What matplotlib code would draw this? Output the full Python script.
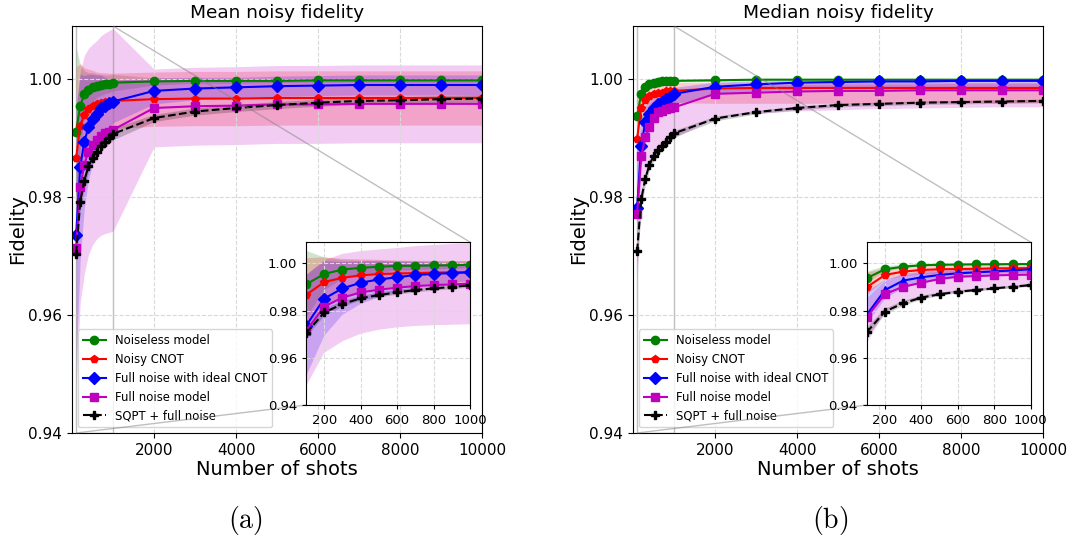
import matplotlib
matplotlib.use("Agg")
import matplotlib.pyplot as plt
import numpy as np
from mpl_toolkits.axes_grid1.inset_locator import mark_inset

# ── data ──────────────────────────────────────────────────────
shots = [100, 200, 300, 400, 500, 600, 700, 800, 900, 1000,
         2000, 3000, 4000, 5000, 6000, 7000, 8000, 9000, 10000]

labels = ["Noiseless model", "Noisy CNOT", "Full noise with ideal CNOT",
          "Full noise model", "SQPT + full noise"]

# (a) mean and std
mean_noiseless = [0.9911, 0.9955, 0.9974, 0.9981, 0.9986, 0.9989, 0.9990, 0.9991, 0.9992, 0.9994,
                  0.9996, 0.9997, 0.9997, 0.9997, 0.9998, 0.9998, 0.9998, 0.9998, 0.9998]
mean_cnot = [0.9866, 0.9921, 0.9939, 0.9949, 0.9955, 0.9957, 0.9959, 0.9961, 0.9962, 0.9963,
             0.9966, 0.9967, 0.9967, 0.9968, 0.9968, 0.9968, 0.9968, 0.9968, 0.9968]
mean_ideal = [0.9735, 0.9851, 0.9894, 0.9918, 0.9932, 0.9941, 0.9951, 0.9955, 0.9959, 0.9962,
              0.9980, 0.9984, 0.9986, 0.9988, 0.9989, 0.9990, 0.9990, 0.9990, 0.9990]
mean_full = [0.9714, 0.9817, 0.9855, 0.9877, 0.9889, 0.9897, 0.9904, 0.9908, 0.9911, 0.9914,
             0.9951, 0.9954, 0.9955, 0.9957, 0.9957, 0.9958, 0.9958, 0.9958, 0.9958]
mean_sqpt = [0.9704, 0.9792, 0.9828, 0.9852, 0.9866, 0.9877, 0.9887, 0.9894, 0.9900, 0.9907,
             0.9934, 0.9945, 0.9951, 0.9956, 0.9960, 0.9963, 0.9964, 0.9966, 0.9967]

std_noiseless = [0.0143, 0.0070, 0.0040, 0.0030, 0.0025, 0.0020, 0.0018, 0.0016, 0.0015, 0.0014,
                 0.0006, 0.0004, 0.0004, 0.0003, 0.0003, 0.0003, 0.0003, 0.0003, 0.0003]
std_cnot = [0.0155, 0.0105, 0.0080, 0.0068, 0.0060, 0.0055, 0.0052, 0.0050, 0.0048, 0.0047,
            0.0046, 0.0046, 0.0046, 0.0046, 0.0046, 0.0046, 0.0046, 0.0046, 0.0046]
std_ideal = [0.0215, 0.0158, 0.0112, 0.0090, 0.0076, 0.0066, 0.0056, 0.0048, 0.0042, 0.0036,
             0.0022, 0.0019, 0.0017, 0.0017, 0.0017, 0.0017, 0.0017, 0.0017, 0.0017]
std_full = [0.0235, 0.0196, 0.0185, 0.0175, 0.0170, 0.0168, 0.0169, 0.0170, 0.0171, 0.0172,
            0.0066, 0.0066, 0.0066, 0.0066, 0.0066, 0.0066, 0.0066, 0.0066, 0.0066]
std_sqpt = [0.0020, 0.0015, 0.0012, 0.0010, 0.0010, 0.0010, 0.0010, 0.0010, 0.0010, 0.0010,
            0.0006, 0.0006, 0.0006, 0.0006, 0.0006, 0.0006, 0.0006, 0.0006, 0.0006]

# (b) median with lower / upper quantiles
med_noiseless = [0.9937, 0.9975, 0.9986, 0.9992, 0.9994, 0.9995, 0.9996, 0.9996, 0.9997, 0.9997,
                 0.9998, 0.9999, 0.9999, 0.9999, 0.9999, 0.9999, 0.9999, 0.9999, 0.9999]
med_cnot = [0.9899, 0.9951, 0.9965, 0.9972, 0.9975, 0.9976, 0.9977, 0.9979, 0.9979, 0.9980,
            0.9984, 0.9985, 0.9985, 0.9985, 0.9985, 0.9985, 0.9985, 0.9985, 0.9985]
med_ideal = [0.9782, 0.9887, 0.9927, 0.9941, 0.9951, 0.9958, 0.9962, 0.9966, 0.9970, 0.9975,
             0.9987, 0.9991, 0.9994, 0.9995, 0.9996, 0.9996, 0.9997, 0.9997, 0.9997]
med_full = [0.9772, 0.9870, 0.9901, 0.9918, 0.9934, 0.9944, 0.9946, 0.9949, 0.9951, 0.9952,
            0.9975, 0.9977, 0.9979, 0.9980, 0.9980, 0.9981, 0.9981, 0.9981, 0.9981]
med_sqpt = [0.9708, 0.9796, 0.9831, 0.9855, 0.9869, 0.9880, 0.9887, 0.9894, 0.9901, 0.9908,
            0.9933, 0.9944, 0.9951, 0.9956, 0.9958, 0.9960, 0.9961, 0.9962, 0.9963]

lo_noiseless = [0.9915, 0.9965, 0.9980, 0.9988, 0.9991, 0.9993, 0.9994, 0.9994, 0.9995, 0.9995,
                0.9996, 0.9997, 0.9997, 0.9997, 0.9997, 0.9997, 0.9997, 0.9997, 0.9997]
hi_noiseless = [0.9965, 0.9988, 0.9994, 0.9997, 0.9998, 0.9998, 0.9999, 0.9999, 0.9999, 0.9999,
                1.0000, 1.0000, 1.0000, 1.0000, 1.0000, 1.0000, 1.0000, 1.0000, 1.0000]
lo_cnot = [0.9865, 0.9928, 0.9945, 0.9952, 0.9955, 0.9957, 0.9958, 0.9959, 0.9959, 0.9960,
           0.9959, 0.9959, 0.9959, 0.9959, 0.9959, 0.9960, 0.9960, 0.9960, 0.9960]
hi_cnot = [0.9960, 0.9978, 0.9986, 0.9990, 0.9991, 0.9992, 0.9993, 0.9993, 0.9994, 0.9994,
           0.9995, 0.9995, 0.9995, 0.9995, 0.9995, 0.9995, 0.9995, 0.9995, 0.9995]
lo_ideal = [0.9740, 0.9850, 0.9895, 0.9915, 0.9928, 0.9937, 0.9943, 0.9948, 0.9952, 0.9957,
            0.9975, 0.9980, 0.9983, 0.9985, 0.9986, 0.9986, 0.9987, 0.9987, 0.9987]
hi_ideal = [0.9880, 0.9930, 0.9955, 0.9965, 0.9972, 0.9976, 0.9979, 0.9982, 0.9984, 0.9986,
            0.9995, 0.9997, 0.9998, 0.9999, 0.9999, 1.0000, 1.0000, 1.0000, 1.0000]
lo_full = [0.9660, 0.9795, 0.9835, 0.9855, 0.9868, 0.9878, 0.9885, 0.9890, 0.9895, 0.9900,
           0.9935, 0.9942, 0.9946, 0.9948, 0.9950, 0.9951, 0.9952, 0.9953, 0.9953]
hi_full = [0.9850, 0.9925, 0.9948, 0.9958, 0.9965, 0.9970, 0.9973, 0.9975, 0.9977, 0.9979,
           0.9988, 0.9990, 0.9991, 0.9992, 0.9992, 0.9992, 0.9993, 0.9993, 0.9993]
lo_sqpt = [0.9685, 0.9782, 0.9820, 0.9846, 0.9861, 0.9873, 0.9880, 0.9888, 0.9895, 0.9902,
           0.9929, 0.9941, 0.9948, 0.9953, 0.9955, 0.9957, 0.9958, 0.9959, 0.9960]
hi_sqpt = [0.9728, 0.9808, 0.9841, 0.9863, 0.9876, 0.9886, 0.9893, 0.9899, 0.9906, 0.9913,
           0.9937, 0.9947, 0.9954, 0.9959, 0.9961, 0.9963, 0.9964, 0.9965, 0.9966]

colors = ["green", "red", "blue", "m", "black"]
styles = ["-", "-", "-", "-", "--"]
markers_main = ["o", "p", "D", "s", "P"]
markers_b_inset = ["o", "p", "^", "s", "P"]

x = np.array(shots)
panel_a = [(np.array(m), np.array(m) - np.array(s), np.array(m) + np.array(s))
           for m, s in zip([mean_noiseless, mean_cnot, mean_ideal, mean_full, mean_sqpt],
                           [std_noiseless, std_cnot, std_ideal, std_full, std_sqpt])]
panel_b = [(np.array(m), np.array(l), np.array(h))
           for m, l, h in zip([med_noiseless, med_cnot, med_ideal, med_full, med_sqpt],
                              [lo_noiseless, lo_cnot, lo_ideal, lo_full, lo_sqpt],
                              [hi_noiseless, hi_cnot, hi_ideal, hi_full, hi_sqpt])]

YLIM = (0.94, 1.009)
YTICKS = [0.94, 0.96, 0.98, 1.00]


def draw(ax, series, markers, ms=6):
    for (y, lo, hi), c, ls, mk, lab in zip(series, colors, styles, markers, labels):
        ax.plot(x, y, color=c, ls=ls, marker=mk, ms=ms, lw=1.5, label=lab)
        ax.fill_between(x, lo, hi, color=c, alpha=0.2, lw=0)


fig = plt.figure(figsize=(10.7, 5.43), dpi=100)
positions = [[0.0673, 0.2026, 0.3832, 0.7495], [0.5916, 0.2026, 0.3832, 0.7495]]
inset_pos = [[0.286, 0.2541, 0.1533, 0.300], [0.810, 0.2541, 0.1533, 0.300]]
titles = ["Mean noisy fidelity", "Median noisy fidelity"]
captions = ["(a)", "(b)"]
cap_x = [0.229, 0.776]

for i, (series, mk_in) in enumerate([(panel_a, markers_main), (panel_b, markers_b_inset)]):
    ax = fig.add_axes(positions[i])
    draw(ax, series, markers_main)
    ax.set_xlim(0, 10000)
    ax.set_ylim(*YLIM)
    ax.set_xticks([2000, 4000, 6000, 8000, 10000])
    ax.set_yticks(YTICKS)
    ax.set_yticklabels([f"{t:.2f}" for t in YTICKS])
    ax.tick_params(labelsize=11)
    ax.grid(True, ls="--", color="0.85", lw=0.8)
    ax.set_title(titles[i], fontsize=13.3)
    ax.set_xlabel("Number of shots", fontsize=14, labelpad=2)
    ax.set_ylabel("Fidelity", fontsize=14, labelpad=1)
    ax.legend(loc="lower left", fontsize=8.4, borderaxespad=0.5)

    axins = fig.add_axes(inset_pos[i])
    draw(axins, series, mk_in)
    axins.set_xlim(100, 1000)
    axins.set_ylim(*YLIM)
    axins.set_xticks([200, 400, 600, 800, 1000])
    axins.set_yticks(YTICKS)
    axins.set_yticklabels([f"{t:.2f}" for t in YTICKS])
    axins.tick_params(labelsize=9.5, length=3)
    axins.grid(True, ls="--", color="0.85", lw=0.8)
    mark_inset(ax, axins, loc1=1, loc2=3, fc="none", ec="0.5", alpha=0.5, lw=1)

    fig.text(cap_x[i], 0.042, r"$\mathrm{" + captions[i] + "}$", fontsize=20,
             ha="center", va="center", math_fontfamily="cm")

fig.savefig("out.png", dpi=100)
